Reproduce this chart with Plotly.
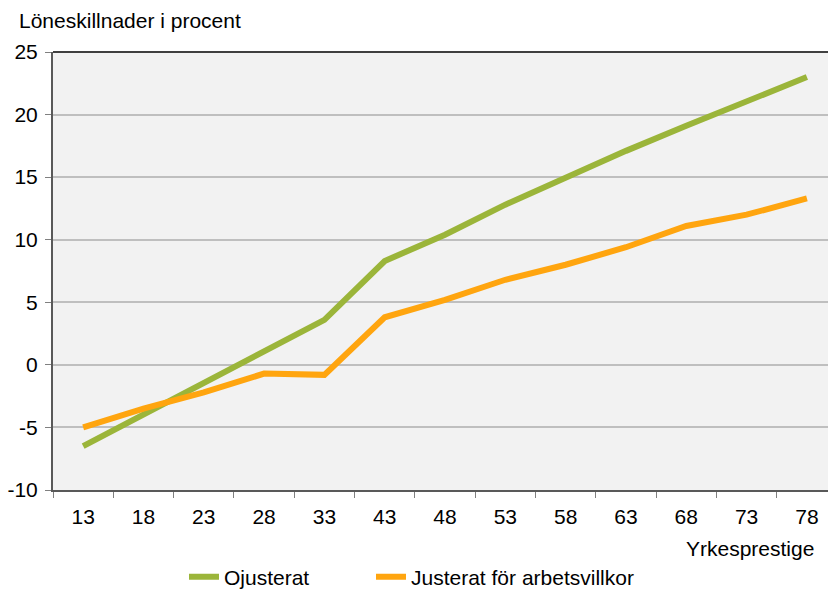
import plotly.graph_objects as go

categories = ["13", "18", "23", "28", "33", "43", "48", "53", "58", "63", "68", "73", "78"]
ojusterat = [-6.5, -4.0, -1.5, 1.1, 3.6, 8.3, 10.4, 12.8, 15.0, 17.1, 19.1, 21.1, 23.0]
justerat = [-5.0, -3.5, -2.2, -0.7, -0.8, 3.8, 5.2, 6.8, 8.0, 9.4, 11.1, 12.0, 13.3]
y_ticks = [-10, -5, 0, 5, 10, 15, 20, 25]
y_labels = ["-10", "-5", "0", "5", "10", "15", "20", "25"]

FONT = "Liberation Sans"
fig = go.Figure()
fig.add_trace(go.Scatter(x=categories, y=ojusterat, mode="lines", name="Ojusterat",
                         line=dict(color="#9bb53a", width=6), legend="legend"))
fig.add_trace(go.Scatter(x=categories, y=justerat, mode="lines", name="Justerat för arbetsvillkor",
                         line=dict(color="#ffa50f", width=6), legend="legend2"))

leg_common = dict(orientation="h", yanchor="middle", xanchor="left", y=(490 - 577) / 438,
                  font=dict(size=21), bgcolor="rgba(0,0,0,0)")
fig.update_layout(
    width=828, height=590,
    margin=dict(l=53, r=0, t=52, b=100, autoexpand=False),
    paper_bgcolor="white", plot_bgcolor="#f2f2f2",
    font=dict(family=FONT, size=21, color="black"),
    showlegend=True,
    legend=dict(x=(184 - 53) / 775, **leg_common),
    legend2=dict(x=(371 - 53) / 775, **leg_common),
    xaxis=dict(type="category", range=[-0.5, 12.35], tickson="boundaries", automargin=False,
               ticks="outside", ticklen=6, tickcolor="#808080", showgrid=False,
               showline=True, linecolor="#595959", linewidth=2,
               tickfont=dict(size=21), ticklabelstandoff=7),
    yaxis=dict(range=[-10, 25], tickvals=y_ticks, ticktext=y_labels, automargin=False,
               showgrid=True, gridcolor="#bfbfbf",
               gridwidth=2, zeroline=False, showline=True, linecolor="#595959", linewidth=2,
               ticks="outside", ticklen=6, tickcolor="#808080", tickfont=dict(size=21),
               ticklabelstandoff=3),
    annotations=[
        dict(text="Löneskillnader i procent", x=(17 - 53) / 775, y=(490 - 20) / 438,
             xref="paper", yref="paper", xanchor="left", yanchor="middle",
             showarrow=False, font=dict(size=21)),
        dict(text="Yrkesprestige", x=(816 - 53) / 775, y=(490 - 548) / 438, xref="paper", yref="paper",
             xanchor="right", yanchor="middle", showarrow=False, font=dict(size=21)),
    ],
)
fig.add_shape(type="line", xref="paper", yref="paper", x0=0, x1=1, y0=1, y1=1,
              line=dict(color="#404040", width=2))
fig.write_html("out.html", post_script="document.body.style.margin='0';",
               config={"displayModeBar": False})
